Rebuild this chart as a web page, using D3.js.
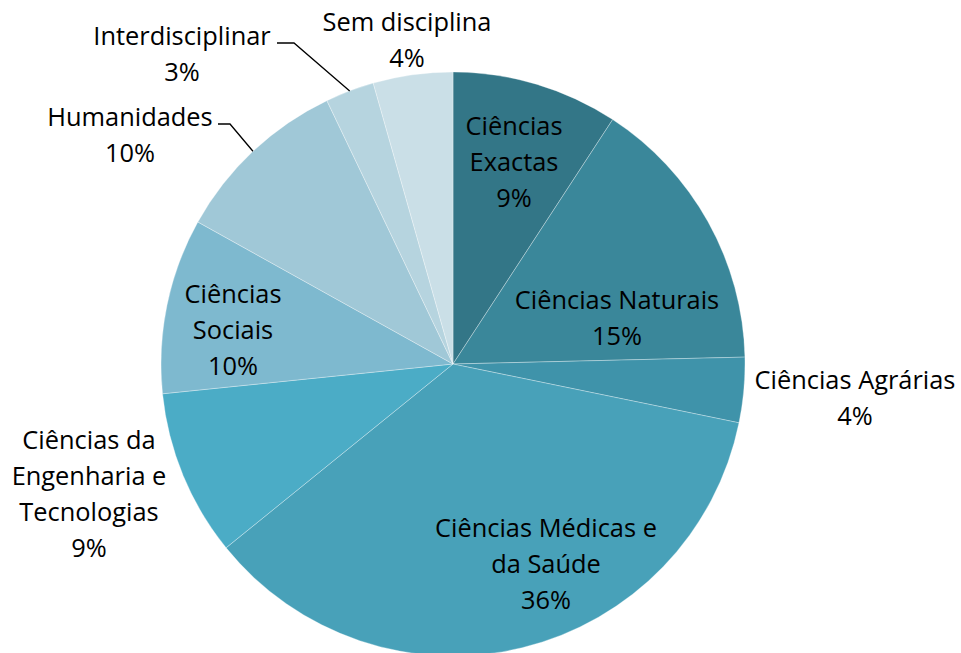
<!DOCTYPE html>
<html>
<head>
<meta charset="utf-8">
<script src="https://cdn.jsdelivr.net/npm/d3@7"></script>
<style>
  body { margin: 0; background: #fff; }
  svg text { font-family: "Open Sans", Lato, sans-serif; font-size: 25.4px; fill: #000; }
</style>
</head>
<body>
<svg id="chart" width="961" height="653"></svg>
<script>
// categories (clockwise from 12 o'clock) and their share, in %
const categories = [
  ["Ciências", "Exactas"],
  ["Ciências Naturais"],
  ["Ciências Agrárias"],
  ["Ciências Médicas e", "da Saúde"],
  ["Ciências da", "Engenharia e", "Tecnologias"],
  ["Ciências", "Sociais"],
  ["Humanidades"],
  ["Interdisciplinar"],
  ["Sem disciplina"]
];
const shares = [9.2, 15.4, 3.6, 35.9, 9.2, 9.7, 9.8, 2.7, 4.4];
const colors = ["#337687", "#3a879a", "#3f93aa", "#48a1b9", "#4bacc6",
                "#7eb9cf", "#a0c8d7", "#b6d4df", "#cadfe7"];

// where each label block is centred (Excel moved them by hand)
const labelPos = [
  [514, 162], [617, 318], [855, 398], [546, 564],
  [89, 494], [233, 330], [130, 135], [182, 54], [407, 40]
];
// labels that get a leader line: index -> x where the elbow starts / ends
const leaders = { 6: [218, 230], 7: [277, 294] };

const svg = d3.select("#chart");
const cx = 453, cy = 364, radius = 292;
const lineH = 36;

const pie = d3.pie().sort(null).value(d => d);
const arcs = pie(shares);
const total = d3.sum(shares);
const arc = d3.arc().innerRadius(0).outerRadius(radius);
const edgeArc = d3.arc().innerRadius(radius).outerRadius(radius);

const g = svg.append("g").attr("transform", `translate(${cx},${cy})`);

g.selectAll("path.slice")
  .data(arcs)
  .enter()
  .append("path")
  .attr("class", "slice")
  .attr("d", arc)
  .attr("fill", (d, i) => colors[i])
  .attr("stroke", "#ffffff")
  .attr("stroke-opacity", 0.45)
  .attr("stroke-width", 0.7);

// leader lines
Object.keys(leaders).forEach(k => {
  const i = +k;
  const [x0, x1] = leaders[i];
  const [ex, ey] = edgeArc.centroid(arcs[i]);
  const y = labelPos[i][1] - lineH / 2 + 7;
  svg.append("polyline")
    .attr("points", `${x0},${y} ${x1},${y} ${cx + ex},${cy + ey}`)
    .attr("fill", "none")
    .attr("stroke", "#000")
    .attr("stroke-width", 1.3);
});

// labels
arcs.forEach((d, i) => {
  const lines = categories[i].concat([Math.round(d.value / total * 100) + "%"]);
  const [lx, ly] = labelPos[i];
  const top = ly - (lines.length - 1) * lineH / 2;
  const t = svg.append("text")
    .attr("text-anchor", "middle");
  lines.forEach((s, j) => {
    t.append("tspan")
      .attr("x", lx)
      .attr("y", top + j * lineH)
      .attr("dy", "0.35em")
      .text(s);
  });
});
</script>
</body>
</html>
